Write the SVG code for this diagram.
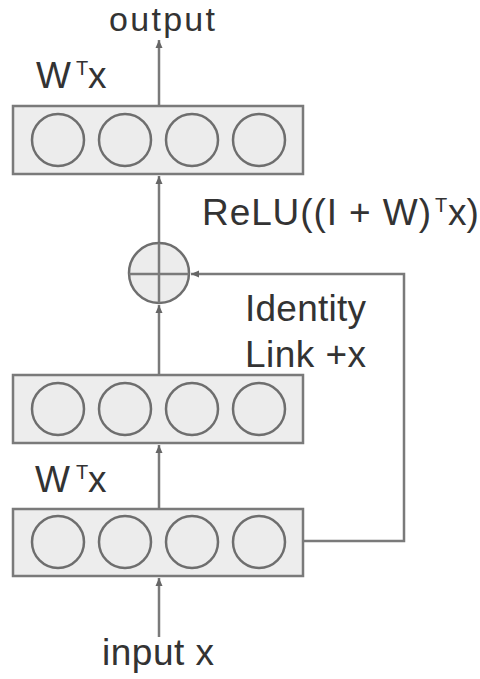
<svg xmlns="http://www.w3.org/2000/svg" width="480" height="679" viewBox="0 0 480 679">
<defs>
<style>
.box{fill:#ededed;stroke:#7a7a7a;stroke-width:2.5}
.unit{fill:#ececec;stroke:#6e6e6e;stroke-width:2.5}
.line{fill:none;stroke:#7a7a7a;stroke-width:2.5}
.lbl{font-family:"Liberation Sans",Arial,sans-serif;font-size:37px;fill:#333}
.sup{font-size:20px}
</style>
<marker id="arr" markerUnits="userSpaceOnUse" markerWidth="9" markerHeight="9" refX="8" refY="4.5" orient="auto">
<path d="M0,1 L8,4.5 L0,8 z" fill="#666"/>
</marker>
</defs>
<rect width="480" height="679" fill="#fff"/>
<g id="connectors">
<line class="line" x1="159" y1="637" x2="159" y2="578" marker-end="url(#arr)"/>
<line class="line" x1="159" y1="509" x2="159" y2="445" marker-end="url(#arr)"/>
<line class="line" x1="159" y1="375" x2="159" y2="305" marker-end="url(#arr)"/>
<line class="line" x1="159" y1="243" x2="159" y2="176" marker-end="url(#arr)"/>
<line class="line" x1="159" y1="106" x2="159" y2="40" marker-end="url(#arr)"/>
<polyline class="line" points="303,541 404,541 404,274 191,274" marker-end="url(#arr)"/>
</g>
<g id="top-layer">
<rect class="box" x="13" y="106" width="290" height="68"/>
<circle class="unit" cx="58" cy="140" r="26"/>
<circle class="unit" cx="125" cy="140" r="26"/>
<circle class="unit" cx="192" cy="140" r="26"/>
<circle class="unit" cx="259" cy="140" r="26"/>
</g>
<g id="middle-layer">
<rect class="box" x="13" y="375" width="290" height="68"/>
<circle class="unit" cx="58" cy="409" r="26"/>
<circle class="unit" cx="125" cy="409" r="26"/>
<circle class="unit" cx="192" cy="409" r="26"/>
<circle class="unit" cx="259" cy="409" r="26"/>
</g>
<g id="bottom-layer">
<rect class="box" x="13" y="509" width="290" height="67"/>
<circle class="unit" cx="58" cy="542" r="26"/>
<circle class="unit" cx="125" cy="542" r="26"/>
<circle class="unit" cx="192" cy="542" r="26"/>
<circle class="unit" cx="259" cy="542" r="26"/>
</g>
<g id="sum">
<circle class="unit" cx="159" cy="273" r="30"/>
<line class="line" x1="129" y1="274" x2="189" y2="274" stroke-width="2"/>
<line class="line" x1="159" y1="243" x2="159" y2="303" stroke-width="2"/>
</g>
<g id="labels">
<text class="lbl" x="109" y="31" font-size="34" textLength="106" lengthAdjust="spacing" style="font-size:34px">output</text>
<text class="lbl" x="36" y="88">W<tspan class="sup" x="76" y="75">T</tspan><tspan x="88" y="88">x</tspan></text>
<text class="lbl" y="225"><tspan x="202" textLength="229" lengthAdjust="spacing">ReLU((I + W)</tspan><tspan class="sup" x="435" y="212">T</tspan><tspan x="448" y="225">x)</tspan></text>
<text class="lbl" x="245" y="321" textLength="121" lengthAdjust="spacing">Identity</text>
<text class="lbl" x="245" y="367" textLength="121" lengthAdjust="spacing">Link +x</text>
<text class="lbl" x="35" y="492">W<tspan class="sup" x="76" y="479">T</tspan><tspan x="88" y="492">x</tspan></text>
<text class="lbl" x="102" y="665" textLength="112" lengthAdjust="spacing">input x</text>
</g>
</svg>
